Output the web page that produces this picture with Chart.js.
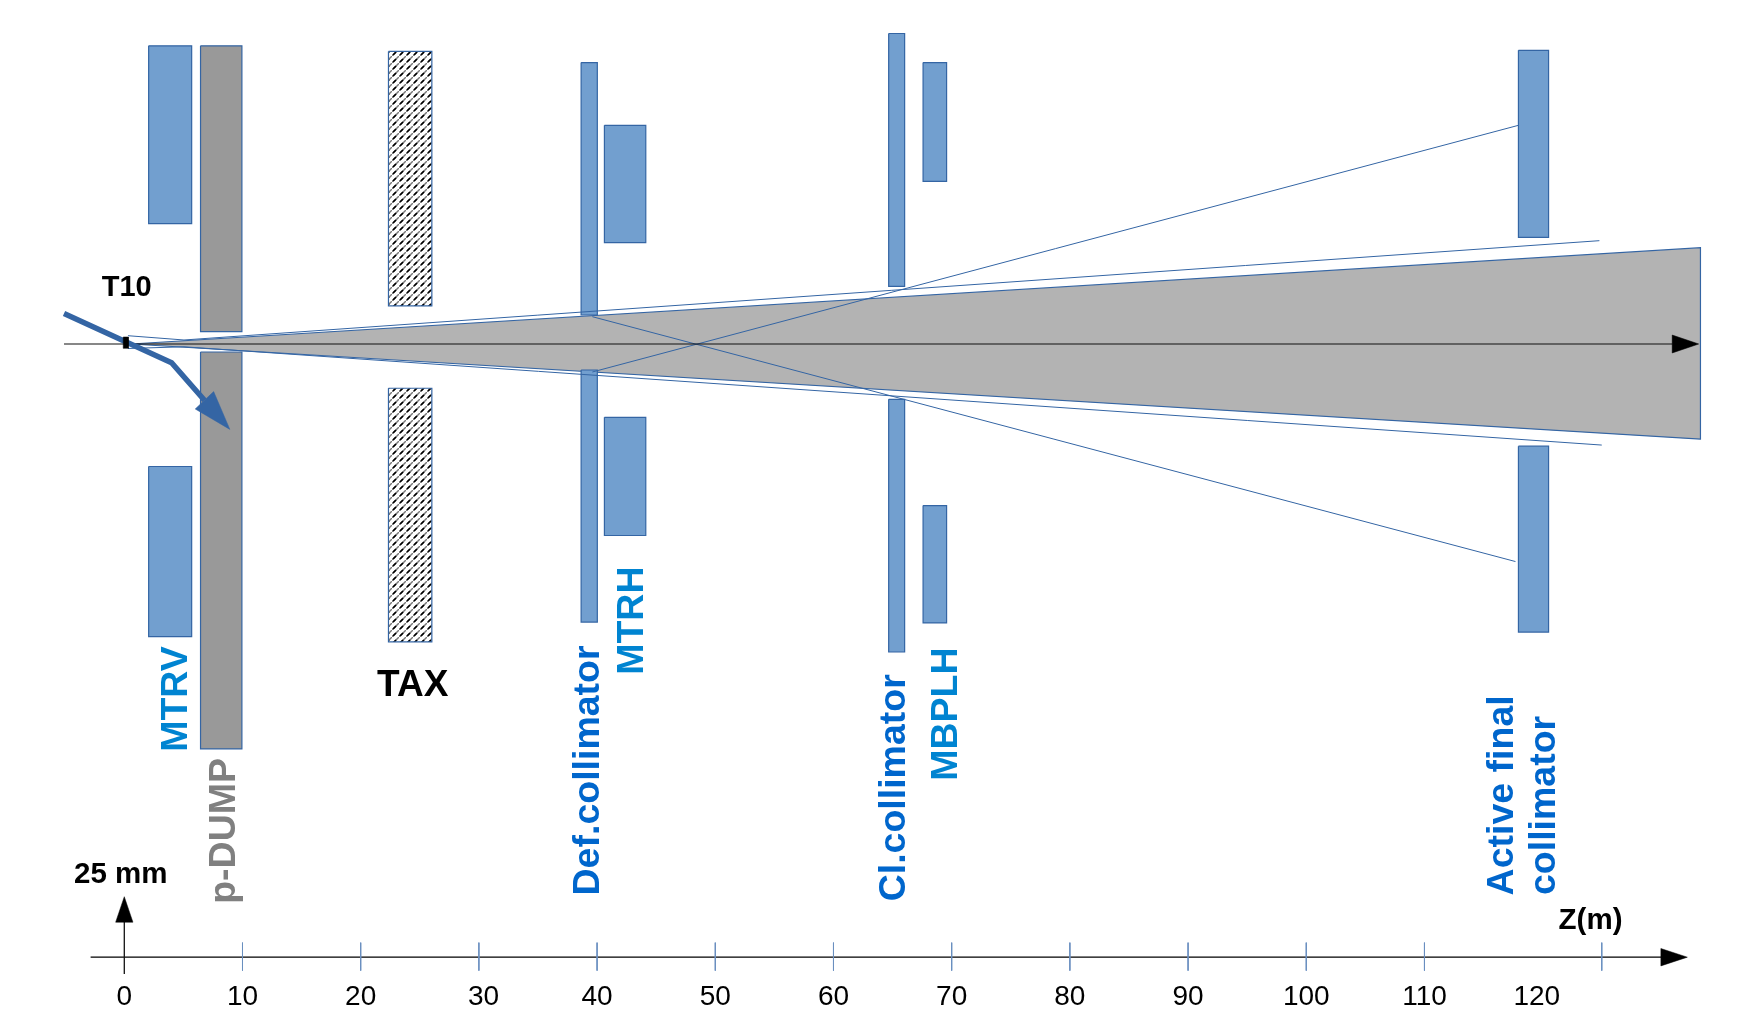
<!DOCTYPE html>
<html>
<head>
<meta charset="utf-8">
<title>Beam line layout</title>
<script src="https://cdn.jsdelivr.net/npm/chart.js@4"></script>
<style>
    html, body { margin: 0; padding: 0; background: #fff; }
    canvas { display: block; }
</style>
</head>
<body>
<canvas id="layoutChart" width="1754" height="1034"></canvas>
<script>
// ================= DATA (z in metres, y in drawing units around the beam axis) =================
const zTickMarks = [10, 20, 30, 40, 50, 60, 70, 80, 90, 100, 110, 125];
const zLabelSpots = [0, 10, 20, 30.4, 40, 50, 60, 70, 80, 90, 100, 110, 119.5];
const zLabels = ["0", "10", "20", "30", "40", "50", "60", "70", "80", "90", "100", "110", "120"];

// each element has an upper and a lower block: [zStart, zEnd, yTop, yBottom]
const mtrv = [[2.06, 5.7, 106.5, 43.0], [2.06, 5.7, -43.75, -104.5]];
const pDump = [[6.45, 9.95, 106.5, 4.4], [6.45, 9.95, -2.86, -144.6]];
const tax = [[22.35, 26.02, 104.5, 13.6], [22.35, 26.02, -15.8, -106.4]];
const defCollimator = [[38.65, 40.02, 100.5, 10.36], [38.65, 40.02, -9.29, -99.3]];
const mtrh = [[40.62, 44.12, 78.1, 36.2], [40.62, 44.12, -26.2, -68.4]];
const clCollimator = [[64.67, 66.02, 110.9, 20.6], [64.67, 66.02, -19.75, -110]];
const mbplh = [[67.58, 69.57, 100.5, 58.1], [67.58, 69.57, -57.7, -99.6]];
const activeFinal = [[117.95, 120.5, 104.9, 38.1], [117.95, 120.5, -36.5, -102.9]];
const target = [[-0.09, 0.34, 2.5, -1.54]];

const beamEnvelope = [[0.57, 0], [133.35, 34.4], [133.35, -34.0], [0.57, 0]];
const outerTop = [[0.31, 2.96], [5.05, 1.43], [124.8, 36.9]];
const outerBottom = [[0.31, -1.6], [5.05, -1.0], [125, -36.1]];
const crossDown = [[39.6, 9.75], [117.7, -77.7]];
const crossUp = [[39.6, -10], [117.95, 78.1]];

const beamAxis = [[-5.1, 0], [131, 0]];
const beamAxisHead = [[130.96, 3.2], [133.2, 0], [130.96, -3.2], [130.96, 3.2]];
const protonPath = [[-5.1, 10.9], [4.0, -6.68], [6.78, -20.1]];
const protonHead = [[6.0, -23.2], [8.93, -30.5], [7.56, -17.0], [6.0, -23.2]];

const zRulerY = -219;
const zRuler = [[-2.85, zRulerY], [130.2, zRulerY]];
const zRulerHead = [[130, zRulerY + 3.1], [132.24, zRulerY], [130, zRulerY - 3.1], [130, zRulerY + 3.1]];
const yRuler = [[0, -225], [0, -205]];
const yRulerHead = [[-0.73, -206.5], [0, -197.4], [0.73, -206.5], [-0.73, -206.5]];

const partNames = ["MTRV", "p-DUMP", "Def.collimator", "MTRH", "Cl.collimator", "MBPLH", "Active final", "collimator"];
const partZ = [4.46, 8.45, 39.32, 43.04, 65.15, 69.58, 116.65, 120.2];
const partY = [-126.8, -173.9, -152.3, -98.8, -158.5, -132.2, -161.2, -164.8];
const partColors = ["#0084d1", "#808080", "#0066cc", "#0084d1", "#0066cc", "#0084d1", "#0066cc", "#0066cc"];

const noteNames = ["T10", "TAX", "25 mm", "Z(m)"];
const noteZ = [0.2, 24.4, -0.3, 124.05];
const noteY = [20.0, -122.2, -189.7, -206.1];
const noteSizes = [29, 37, 29.5, 29.5];

// ================= HELPERS =================
const toPoints = pairs => pairs.map(p => ({ x: p[0], y: p[1] }));

const blocks = list => list.map(b => toPoints([
    [b[0], b[2]], [b[1], b[2]], [b[1], b[3]], [b[0], b[3]], [b[0], b[2]]
]));

function shape(points, fillColor, lineColor, lineWidth) {
    return {
        data: points,
        showLine: true,
        pointRadius: 0,
        borderColor: lineColor,
        borderWidth: lineWidth,
        polygonFill: fillColor
    };
}

function hatchPattern() {
    const tile = document.createElement("canvas");
    tile.width = 7;
    tile.height = 7;
    const c = tile.getContext("2d");
    c.fillStyle = "#fff";
    c.fillRect(0, 0, 7, 7);
    c.strokeStyle = "#777";
    c.lineWidth = 1.4;
    c.beginPath();
    c.moveTo(-1, 8);
    c.lineTo(8, -1);
    c.stroke();
    c.strokeStyle = "#000";
    c.lineWidth = 1.7;
    c.beginPath();
    c.moveTo(1, 6);
    c.lineTo(4, 3);
    c.stroke();
    return c.createPattern(tile, "repeat");
}

// ================= DATASETS (listed bottom to top, the library draws the first one last) =================
const BLUE = "#729fcf", EDGE = "#3465a4";
const hatch = hatchPattern();

const layers = [shape(toPoints(beamEnvelope), "#b3b3b3", EDGE, 1.2)];
blocks(mtrv).forEach(b => layers.push(shape(b, BLUE, EDGE, 1.2)));
blocks(pDump).forEach(b => layers.push(shape(b, "#999999", EDGE, 1.2)));
blocks(tax).forEach(b => layers.push(shape(b, hatch, EDGE, 1.2)));
[defCollimator, mtrh, clCollimator, mbplh, activeFinal].forEach(part => {
    blocks(part).forEach(b => layers.push(shape(b, BLUE, EDGE, 1.2)));
});
layers.push(shape(toPoints(outerTop), null, EDGE, 1));
layers.push(shape(toPoints(outerBottom), null, EDGE, 1));
layers.push(shape(toPoints(crossDown), null, EDGE, 1));
layers.push(shape(toPoints(crossUp), null, EDGE, 1));
layers.push(shape(toPoints(beamAxis), null, "#111", 1.2));
layers.push(shape(toPoints(beamAxisHead), "#000", "#000", 0.5));
layers.push(shape(toPoints(protonPath), null, EDGE, 5.5));
layers.push(shape(toPoints(protonHead), EDGE, EDGE, 0.5));
blocks(target).forEach(b => layers.push(shape(b, "#000", "#000", 0.5)));

layers.push(shape(toPoints(zRuler), null, "#000", 1.3));
layers.push(shape(toPoints(zRulerHead), "#000", "#000", 0.5));
layers.push(shape(toPoints(yRuler), null, "#111", 1.3));
layers.push(shape(toPoints(yRulerHead), "#000", "#000", 0.5));
zTickMarks.forEach(z => {
    layers.push(shape(toPoints([[z, zRulerY + 5.2], [z, zRulerY - 4.8]]), null, "#6a8fc0", 1));
});

// ================= PLUGINS =================
const polygonFill = {
    id: "polygonFill",
    beforeDatasetDraw(chart, args) {
        const color = chart.data.datasets[args.index].polygonFill;
        if (!color) return;
        const pts = args.meta.data;
        const ctx = chart.ctx;
        ctx.save();
        ctx.fillStyle = color;
        ctx.beginPath();
        pts.forEach((p, i) => i ? ctx.lineTo(p.x, p.y) : ctx.moveTo(p.x, p.y));
        ctx.closePath();
        ctx.fill();
        ctx.restore();
    }
};

const textLabels = {
    id: "textLabels",
    afterDatasetsDraw(chart) {
        const { ctx, scales } = chart;
        ctx.save();
        ctx.textAlign = "center";
        ctx.textBaseline = "middle";
        partNames.forEach((name, i) => {
            ctx.save();
            ctx.translate(scales.x.getPixelForValue(partZ[i]), scales.y.getPixelForValue(partY[i]));
            ctx.rotate(-Math.PI / 2);
            ctx.fillStyle = partColors[i];
            ctx.font = "bold 37.5px 'Liberation Sans'";
            ctx.fillText(name, 0, 0);
            ctx.restore();
        });
        ctx.fillStyle = "#000";
        noteNames.forEach((name, i) => {
            ctx.font = "bold " + noteSizes[i] + "px 'Liberation Sans'";
            ctx.fillText(name, scales.x.getPixelForValue(noteZ[i]), scales.y.getPixelForValue(noteY[i]));
        });
        ctx.restore();
    }
};

// ================= CHART =================
new Chart(document.getElementById("layoutChart").getContext("2d"), {
    type: "scatter",
    data: { datasets: layers.reverse() },
    plugins: [polygonFill, textLabels],
    options: {
        responsive: false,
        animation: false,
        devicePixelRatio: 1,
        layout: { padding: 0 },
        plugins: {
            legend: { display: false },
            tooltip: { enabled: false }
        },
        scales: {
            x: {
                type: "linear",
                min: -10.516,
                max: 137.88,
                position: { y: zRulerY },
                afterBuildTicks: axis => {
                    axis.ticks = zLabelSpots.map(v => ({ value: v }));
                },
                grid: { display: false, drawTicks: false },
                border: { display: false },
                ticks: {
                    autoSkip: false,
                    maxRotation: 0,
                    padding: 23,
                    color: "#000",
                    font: { family: "Liberation Sans", size: 28 },
                    callback: (value, index) => zLabels[index]
                }
            },
            y: {
                type: "linear",
                min: -246.43,
                max: 122.857,
                display: false
            }
        }
    }
});
</script>
</body>
</html>
